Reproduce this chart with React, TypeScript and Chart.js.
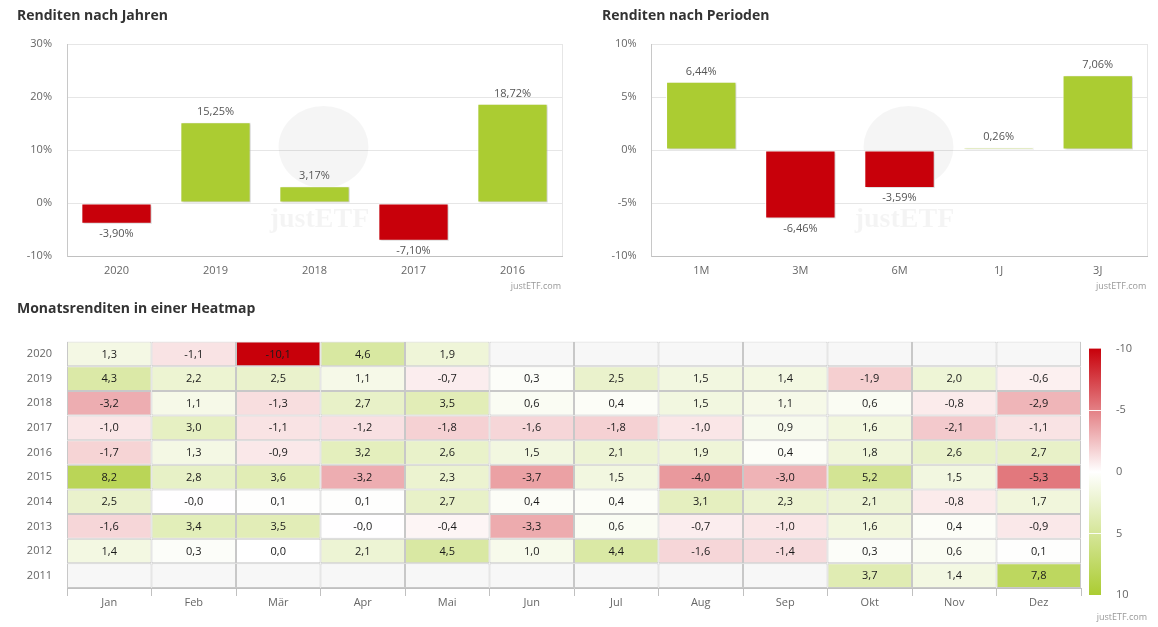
import React, { useEffect, useRef } from 'react';
import { Chart, registerables } from 'chart.js';

Chart.register(...registerables);
Chart.defaults.font.family = "'Open Sans', sans-serif";

// ---------- data ----------
const yearLabels = ['2020', '2019', '2018', '2017', '2016'];
const yearReturns = [-3.9, 15.25, 3.17, -7.1, 18.72];

const periodLabels = ['1M', '3M', '6M', '1J', '3J'];
const periodReturns = [6.44, -6.46, -3.59, 0.26, 7.06];

const months = ['Jan', 'Feb', 'Mär', 'Apr', 'Mai', 'Jun', 'Jul', 'Aug', 'Sep', 'Okt', 'Nov', 'Dez'];
const heatYears = ['2020', '2019', '2018', '2017', '2016', '2015', '2014', '2013', '2012', '2011'];

const m2020 = [1.3, -1.1, -10.1, 4.6, 1.9, null, null, null, null, null, null, null];
const m2019 = [4.3, 2.2, 2.5, 1.1, -0.7, 0.3, 2.5, 1.5, 1.4, -1.9, 2.0, -0.6];
const m2018 = [-3.2, 1.1, -1.3, 2.7, 3.5, 0.6, 0.4, 1.5, 1.1, 0.6, -0.8, -2.9];
const m2017 = [-1.0, 3.0, -1.1, -1.2, -1.8, -1.6, -1.8, -1.0, 0.9, 1.6, -2.1, -1.1];
const m2016 = [-1.7, 1.3, -0.9, 3.2, 2.6, 1.5, 2.1, 1.9, 0.4, 1.8, 2.6, 2.7];
const m2015 = [8.2, 2.8, 3.6, -3.2, 2.3, -3.7, 1.5, -4.0, -3.0, 5.2, 1.5, -5.3];
const m2014 = [2.5, -0.02, 0.1, 0.1, 2.7, 0.4, 0.4, 3.1, 2.3, 2.1, -0.8, 1.7];
const m2013 = [-1.6, 3.4, 3.5, -0.02, -0.4, -3.3, 0.6, -0.7, -1.0, 1.6, 0.4, -0.9];
const m2012 = [1.4, 0.3, 0.0, 2.1, 4.5, 1.0, 4.4, -1.6, -1.4, 0.3, 0.6, 0.1];
const m2011 = [null, null, null, null, null, null, null, null, null, 3.7, 1.4, 7.8];
const heatRows: (number | null)[][] = [m2020, m2019, m2018, m2017, m2016, m2015, m2014, m2013, m2012, m2011];

const colorTicks = [-10, -5, 0, 5, 10];

// ---------- styles ----------
const GREEN: [number, number, number] = [171, 204, 50];
const RED: [number, number, number] = [200, 0, 10];
const rgb = (c: number[]) => `rgb(${c.map((v) => Math.round(v)).join(',')})`;

function cellColor(v: number | null) {
  if (v === null) return '#f7f7f7';
  const t = Math.min(1, Math.abs(v) / 10);
  const c = v < 0 ? RED : GREEN;
  return rgb(c.map((ch) => 255 + (ch - 255) * t));
}

const fmt2 = (v: number) => v.toFixed(2).replace('.', ',') + '%';
const fmt1 = (v: number) => v.toFixed(1).replace('.', ',');

const barPlugin = {
  id: 'barDecor',
  beforeDatasetsDraw(chart: any) {
    const { ctx, chartArea: ca } = chart;
    ctx.save();
    ctx.strokeStyle = '#e6e6e6';
    ctx.lineWidth = 1;
    ctx.beginPath();
    ctx.moveTo(Math.round(ca.right) + 0.5, ca.top);
    ctx.lineTo(Math.round(ca.right) + 0.5, ca.bottom);
    ctx.stroke();
    const cx = (ca.left + ca.right) / 2 + 9;
    ctx.fillStyle = 'rgba(0,0,0,0.04)';
    ctx.beginPath();
    ctx.ellipse(cx, ca.top + 103, 45, 41, 0, 0, Math.PI * 2);
    ctx.fill();
    ctx.font = 'bold 28px "Liberation Serif"';
    ctx.textAlign = 'center';
    ctx.textBaseline = 'middle';
    ctx.fillStyle = 'rgba(0,0,0,0.045)';
    ctx.fillText('justETF', cx - 4, ca.top + 176);
    ctx.restore();
    ctx.save();
    ctx.shadowColor = 'rgba(0,0,0,0.18)';
    ctx.shadowOffsetX = 2;
    ctx.shadowOffsetY = 1;
    ctx.shadowBlur = 2;
  },
  afterDatasetsDraw(chart: any) {
    const { ctx, chartArea: ca } = chart;
    ctx.restore();
    ctx.save();
    ctx.font = '11px "Open Sans"';
    ctx.fillStyle = '#555';
    ctx.textAlign = 'center';
    ctx.textBaseline = 'middle';
    const values = chart.data.datasets[0].data as number[];
    chart.getDatasetMeta(0).data.forEach((el: any, i: number) => {
      const v = values[i];
      const y = v >= 0 ? el.y - 10 : el.y + 10;
      ctx.fillText(fmt2(v), el.x, y);
    });
    ctx.font = '9px "Open Sans"';
    ctx.fillStyle = '#999';
    ctx.textAlign = 'right';
    ctx.fillText('justETF.com', ca.right - 1, 286);
    ctx.restore();
  },
};

function barConfig(labels: string[], values: number[], min: number, max: number, step: number, axisWidth: number, padRight: number) {
  return {
    type: 'bar' as const,
    data: {
      labels,
      datasets: [
        {
          data: values,
          backgroundColor: values.map((v) => (v >= 0 ? rgb(GREEN) : rgb(RED))),
          borderColor: '#ffffff',
          borderWidth: 1,
          borderSkipped: false,
          barPercentage: 0.71,
          categoryPercentage: 1,
        },
      ],
    },
    options: {
      responsive: false,
      animation: false as const,
      devicePixelRatio: 1,
      layout: { padding: { top: 44, right: padRight, left: 0, bottom: 0 } },
      plugins: { legend: { display: false }, tooltip: { enabled: false } },
      scales: {
        x: {
          grid: { display: false, drawTicks: false },
          border: { color: '#c0c0c0' },
          ticks: { padding: 8, color: '#666', font: { size: 11 } },
          afterFit: (s: any) => {
            s.height = 44;
          },
        },
        y: {
          min,
          max,
          ticks: { stepSize: step, padding: 15, color: '#666', font: { size: 11 }, callback: (v: any) => v + '%' },
          grid: { color: '#e6e6e6', drawTicks: false },
          border: { color: '#c8c8c8' },
          afterFit: (s: any) => {
            s.width = axisWidth;
          },
        },
      },
    },
    plugins: [barPlugin],
  };
}

const heatPlugin = {
  id: 'heatDecor',
  afterDatasetsDraw(chart: any) {
    const { ctx } = chart;
    ctx.save();
    ctx.font = '11px "Open Sans"';
    ctx.fillStyle = '#1a1a1a';
    ctx.textAlign = 'center';
    ctx.textBaseline = 'middle';
    heatRows.forEach((row, i) => {
      const meta = chart.getDatasetMeta(i);
      meta.data.forEach((el: any, j: number) => {
        const v = row[j];
        if (v === null) return;
        ctx.fillText(fmt1(v), el.x, (el.y + el.base) / 2 + 0.5);
      });
    });
    ctx.restore();
  },
  afterDraw(chart: any) {
    const { ctx, chartArea: ca } = chart;
    ctx.save();
    const x0 = ca.right + 8;
    const w = 12;
    const y0 = ca.top + 7;
    const y1 = ca.bottom + 7;
    const g = ctx.createLinearGradient(0, y0, 0, y1);
    g.addColorStop(0, rgb(RED));
    g.addColorStop(0.5, '#ffffff');
    g.addColorStop(1, rgb(GREEN));
    ctx.fillStyle = g;
    ctx.fillRect(x0, y0, w, y1 - y0);
    ctx.font = '11px "Open Sans"';
    ctx.textAlign = 'left';
    ctx.textBaseline = 'middle';
    colorTicks.forEach((t, k) => {
      const y = y0 + ((t - colorTicks[0]) / (colorTicks[colorTicks.length - 1] - colorTicks[0])) * (y1 - y0);
      if (k > 0 && k < colorTicks.length - 1) {
        ctx.strokeStyle = 'rgba(255,255,255,0.9)';
        ctx.lineWidth = 1;
        ctx.beginPath();
        ctx.moveTo(x0, Math.round(y) + 0.5);
        ctx.lineTo(x0 + w, Math.round(y) + 0.5);
        ctx.stroke();
      }
      ctx.fillStyle = '#666';
      ctx.fillText(String(t), ca.right + 35, y);
    });
    ctx.font = '9px "Open Sans"';
    ctx.fillStyle = '#999';
    ctx.textAlign = 'right';
    ctx.fillText('justETF.com', chart.width - 11, 297);
    ctx.restore();
  },
};

function heatConfig() {
  return {
    type: 'bar' as const,
    data: {
      labels: months,
      datasets: heatRows.map((row, i) => ({
        label: heatYears[i],
        data: months.map(() => 1),
        backgroundColor: row.map((v) => cellColor(v)),
        borderColor: '#c8c8c8',
        borderWidth: 1,
        borderSkipped: false,
        barPercentage: 1,
        categoryPercentage: 1,
        inflateAmount: 0,
        yAxisID: 'y',
      })),
    },
    options: {
      responsive: false,
      animation: false as const,
      devicePixelRatio: 1,
      layout: { padding: { top: 18, right: 77, left: 0, bottom: 0 } },
      plugins: { legend: { display: false }, tooltip: { enabled: false } },
      scales: {
        x: {
          stacked: true,
          offset: true,
          grid: { offset: true, drawOnChartArea: false, tickLength: 8, color: '#c0c0c0' },
          border: { color: '#c0c0c0' },
          ticks: { padding: 0, color: '#666', font: { size: 11 } },
          afterFit: (s: any) => {
            s.height = 39;
          },
        },
        y: { type: 'linear' as const, stacked: true, min: 0, max: heatYears.length, reverse: true, display: false },
        yy: {
          type: 'category' as const,
          labels: heatYears,
          position: 'left' as const,
          offset: true,
          grid: { display: false, drawTicks: false },
          border: { display: false },
          ticks: { padding: 15, color: '#666', font: { size: 11 } },
          afterFit: (s: any) => {
            s.width = 67;
          },
        },
      },
    },
    plugins: [heatPlugin],
  };
}

function ChartCanvas({ make, left, top, width, height }: { make: () => any; left: number; top: number; width: number; height: number }) {
  const ref = useRef<HTMLCanvasElement>(null);
  useEffect(() => {
    const chart = new Chart(ref.current as HTMLCanvasElement, make());
    return () => chart.destroy();
  }, []);
  return <canvas ref={ref} width={width} height={height} style={{ position: 'absolute', left, top, width, height }} />;
}

const titleStyle: React.CSSProperties = {
  position: 'absolute',
  font: "bold 14px 'Open Sans', sans-serif",
  lineHeight: '20px',
  color: '#333',
  whiteSpace: 'nowrap',
};

export default function App() {
  return (
    <div style={{ position: 'absolute', left: 0, top: 0, width: 1158, height: 627, overflow: 'hidden', background: '#fff' }}>
      <ChartCanvas make={() => barConfig(yearLabels, yearReturns, -10, 30, 10, 67, 17)} left={0} top={0} width={579} height={300} />
      <ChartCanvas make={() => barConfig(periodLabels, periodReturns, -10, 10, 5, 72.7, 10.7)} left={579} top={0} width={579} height={300} />
      <ChartCanvas make={heatConfig} left={0} top={320} width={1158} height={307} />
      <div style={{ ...titleStyle, left: 17, top: 5 }}>Renditen nach Jahren</div>
      <div style={{ ...titleStyle, left: 602, top: 5 }}>Renditen nach Perioden</div>
      <div style={{ ...titleStyle, left: 17, top: 298 }}>Monatsrenditen in einer Heatmap</div>
    </div>
  );
}
